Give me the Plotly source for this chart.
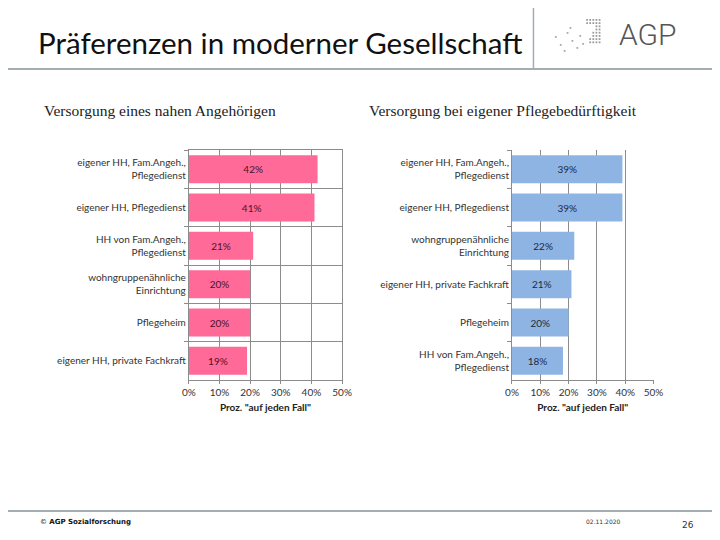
import plotly.graph_objects as go

# Data
left_cats = ["eigener HH, Fam.Angeh.,<br>Pflegedienst", "eigener HH, Pflegedienst",
             "HH von Fam.Angeh.,<br>Pflegedienst", "wohngruppenähnliche<br>Einrichtung",
             "Pflegeheim", "eigener HH, private Fachkraft"]
left_vals = [42, 41, 21, 20, 20, 19]

right_cats = ["eigener HH, Fam.Angeh.,<br>Pflegedienst", "eigener HH, Pflegedienst",
              "wohngruppenähnliche<br>Einrichtung", "eigener HH, private Fachkraft",
              "Pflegeheim", "HH von Fam.Angeh.,<br>Pflegedienst"]
right_vals = [39, 39, 22, 21, 20, 18]

x_ticks = [0, 10, 20, 30, 40, 50]
x_ticktext = ["0%", "10%", "20%", "30%", "40%", "50%"]

W, H = 720, 540
OFF = 8  # page body margin offsets the figure in the browser
def px(x): return (x - OFF) / W
def py(y): return 1 - (y - OFF) / H

fig = go.Figure()

fig.add_trace(go.Bar(
    x=left_vals, y=left_cats, orientation="h", xaxis="x", yaxis="y",
    marker=dict(color="#FF6A98", line=dict(width=0)),
    text=[f"{v}%" for v in left_vals], texttemplate="%{text}",
    textposition="inside", insidetextanchor="middle",
    textfont=dict(family="Lato", size=10, color="#4a1428"), showlegend=False
))
fig.add_trace(go.Bar(
    x=right_vals, y=right_cats, orientation="h", xaxis="x2", yaxis="y2",
    marker=dict(color="#8EB4E3", line=dict(width=0)),
    text=[f"{v}%" for v in right_vals], texttemplate="%{text}",
    textposition="inside", insidetextanchor="middle",
    textfont=dict(family="Lato", size=10, color="#1c2a44"), showlegend=False
))

tickfont = dict(family="Lato", size=10, color="#333333")
grid = "#8c8c8c"

xcommon = dict(range=[0, 50], tickmode="array", tickvals=x_ticks, ticktext=x_ticktext,
               showgrid=True, gridcolor=grid, gridwidth=1, zeroline=False, showline=True,
               linecolor=grid, ticks="outside", ticklen=3, tickcolor=grid,
               tickfont=tickfont, fixedrange=True,
               title=dict(text='<b>Proz. "auf jeden Fall"</b>', standoff=6,
                          font=dict(family="Lato", size=10, color="#222222")))

fig.update_layout(
    width=W, height=H, margin=dict(l=0, r=0, t=0, b=0),
    paper_bgcolor="white", plot_bgcolor="white", bargap=0.27,
    xaxis=dict(domain=[px(186), px(343)], anchor="y", mirror=True, **xcommon),
    xaxis2=dict(domain=[px(517), px(662)], anchor="y2", **xcommon),
    yaxis=dict(domain=[py(380), py(150)], anchor="x", categoryorder="array",
               categoryarray=left_cats, autorange="reversed", tickson="boundaries",
               showgrid=True, gridcolor=grid, showline=True, linecolor=grid, mirror=True,
               ticks="outside", ticklen=4, tickcolor=grid, tickfont=tickfont),
    yaxis2=dict(domain=[py(380), py(150)], anchor="x2", categoryorder="array",
                categoryarray=right_cats, autorange="reversed", tickson="boundaries",
                showgrid=False, showline=True, linecolor=grid,
                ticks="outside", ticklen=4, tickcolor=grid, tickfont=tickfont),
)

ann = [
    dict(text="Präferenzen in moderner Gesellschaft", x=px(30), y=py(42),
         xanchor="left", yanchor="middle", font=dict(family="Lato", size=29.5, color="#111111")),
    dict(text="AGP", x=px(625), y=py(34), xanchor="left", yanchor="middle",
         font=dict(family="Roboto", size=30, color="#555555", weight=300)),
    dict(text="Versorgung eines nahen Angehörigen", x=px(36), y=py(110),
         xanchor="left", yanchor="middle",
         font=dict(family="Liberation Serif", size=15.5, color="#222222")),
    dict(text="Versorgung bei eigener Pflegebedürftigkeit", x=px(368), y=py(110),
         xanchor="left", yanchor="middle",
         font=dict(family="Liberation Serif", size=15.5, color="#222222")),
    dict(text="© <b>AGP Sozialforschung</b>", x=px(32), y=py(522), xanchor="left",
         yanchor="middle", font=dict(family="DejaVu Sans", size=7, color="#111111")),
    dict(text="02.11.2020", x=px(591), y=py(521), xanchor="left", yanchor="middle",
         font=dict(family="DejaVu Sans", size=6, color="#333333")),
    dict(text="26", x=px(697), y=py(525), xanchor="center", yanchor="middle",
         font=dict(family="DejaVu Sans", size=9, color="#333333")),
]
for a in ann:
    a.update(xref="paper", yref="paper", showarrow=False)
fig.update_layout(annotations=ann)

line_col = "#A3AEB4"
shapes = [
    dict(type="line", x0=px(0), x1=1, y0=py(69), y1=py(69), line=dict(color=line_col, width=2)),
    dict(type="line", x0=px(539), x1=px(539), y0=1, y1=py(69), line=dict(color=line_col, width=1.5)),
    dict(type="line", x0=px(0), x1=1, y0=py(511), y1=py(511), line=dict(color=line_col, width=2)),
]
# logo dot grid (decorative)
for r in range(8):
    for c in range(5):
        if c >= 4 - r // 2 or r < 2:
            x = 593 + c * 3.2
            y = 19 + r * 3.2
            shapes.append(dict(type="rect", x0=px(x), x1=px(x + 1.8), y0=py(y), y1=py(y + 1.8),
                               fillcolor="#9a9a9a", line=dict(width=0)))
for (x, y) in [(561, 36), (566, 44), (573, 32), (578, 40), (583, 47), (570, 50), (586, 35), (589, 43), (576, 27)]:
    shapes.append(dict(type="rect", x0=px(x), x1=px(x + 1.8), y0=py(y), y1=py(y + 1.8),
                       fillcolor="#a8a8a8", line=dict(width=0)))
for s in shapes:
    s.update(xref="paper", yref="paper", layer="above")
fig.update_layout(shapes=shapes)

fig.write_html("out.html")
